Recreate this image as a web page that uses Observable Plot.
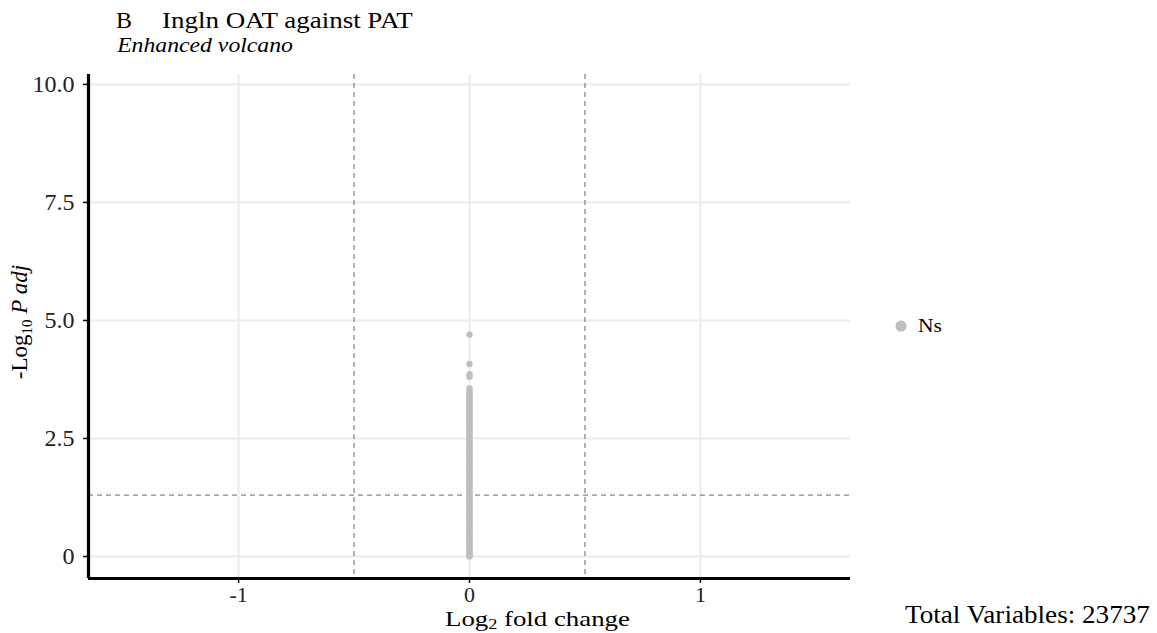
<!DOCTYPE html>
<html>
<head>
<meta charset="utf-8">
<script src="https://cdn.jsdelivr.net/npm/d3@7"></script>
<script src="https://cdn.jsdelivr.net/npm/@observablehq/plot@0.6"></script>
<style>
  html, body { margin: 0; padding: 0; background: #fff; }
  #chart { position: relative; width: 1157px; height: 633px; }
  svg { font-family: "Liberation Serif", "DejaVu Serif", serif; }
</style>
</head>
<body>
<div id="chart"></div>
<script>
// ---- data ----
const xTicks = [-1, 0, 1];
const xTickLabels = ["-1", "0", "1"];
const yTicks = [0, 2.5, 5, 7.5, 10];
const yTickLabels = ["0", "2.5", "5.0", "7.5", "10.0"];
const fcCutoffs = [-0.5, 0.5];
const pCutoff = [1.30103];
// -log10 adjusted p values of genes (all with log2FC ~ 0)
const negLogP = [4.70, 4.08, 3.86, 3.81, 3.56, 3.50, 3.45, 3.41, 3.37, 3.33, 3.29, 3.25, 3.21,
  3.17, 3.13, 3.09, 3.05, 3.01, 2.97, 2.93, 2.89, 2.85, 2.81, 2.77, 2.73, 2.69, 2.65, 2.61,
  2.57, 2.53, 2.49, 2.45, 2.41, 2.37, 2.33, 2.29, 2.25, 2.21, 2.17, 2.13, 2.09, 2.05, 2.01,
  1.97, 1.93, 1.89, 1.85, 1.81, 1.77, 1.73, 1.69, 1.65, 1.61, 1.57, 1.53, 1.49, 1.45, 1.41,
  1.37, 1.33, 1.29, 1.25, 1.21, 1.17, 1.13, 1.09, 1.05, 1.01, 0.97, 0.93, 0.89, 0.85, 0.81,
  0.77, 0.73, 0.69, 0.65, 0.61, 0.57, 0.53, 0.49, 0.45, 0.41, 0.37, 0.33, 0.29, 0.25, 0.21,
  0.17, 0.13, 0.09, 0.05, 0.02, 0.00];
const log2FC = negLogP.map(() => 0);
const categories = ["Ns"];
const colors = ["#bebebe"];
const totalVariables = 23737;

const genes = negLogP.map((p, i) => ({fc: log2FC[i], p, group: categories[0]}));

const xDomain = [-1.65, 1.65];
const yDomain = [-0.466, 10.21];

const plot = Plot.plot({
  width: 1157,
  height: 633,
  marginLeft: 88,
  marginRight: 307,
  marginTop: 74,
  marginBottom: 55,
  style: {fontFamily: "Liberation Serif", background: "#fff"},
  x: {domain: xDomain},
  y: {domain: yDomain},
  color: {domain: categories, range: colors},
  marks: [
    Plot.gridX(xTicks, {stroke: "#ebebeb", strokeOpacity: 1, strokeWidth: 2}),
    Plot.gridY(yTicks, {stroke: "#ebebeb", strokeOpacity: 1, strokeWidth: 2}),
    Plot.ruleX(fcCutoffs, {stroke: "#666", strokeWidth: 1, strokeDasharray: "5,4"}),
    Plot.ruleY(pCutoff, {stroke: "#666", strokeWidth: 1, strokeDasharray: "5,4"}),
    Plot.dot(genes, {x: "fc", y: "p", fill: "group", r: 3.2, stroke: null}),
    Plot.ruleX([xDomain[0]], {stroke: "#000", strokeWidth: 3.2}),
    Plot.ruleY([yDomain[0]], {stroke: "#000", strokeWidth: 3.2, x1: xDomain[0], x2: xDomain[1]}),
    Plot.axisX({ticks: xTicks, tickFormat: (d) => xTickLabels[xTicks.indexOf(d)], tickSize: 5,
      tickPadding: 3, fontSize: 22, fill: "#222", stroke: "#000", strokeWidth: 1.5, label: null}),
    Plot.axisY({ticks: yTicks, tickFormat: (d) => yTickLabels[yTicks.indexOf(d)], tickSize: 5,
      tickPadding: 9, fontSize: 24, fill: "#222", stroke: "#000", strokeWidth: 1.5, label: null})
  ]
});
document.getElementById("chart").appendChild(plot);

const svg = d3.select(plot);
const font = "Liberation Serif";

// stretch a horizontal text so it starts at x0 and spans width w
function fit(sel, x0, w) {
  const b = sel.node().getBBox();
  const sx = w / b.width;
  sel.attr("transform", `translate(${x0},0) scale(${sx},1) translate(${-b.x},0)`);
}
function txt(x, y, size, str, extra = {}) {
  const t = svg.append("text").attr("x", x).attr("y", y).attr("font-family", font)
    .attr("font-size", size).attr("fill", "#000").attr("text-anchor", "start");
  for (const k in extra) t.attr(k, extra[k]);
  if (str != null) t.text(str);
  return t;
}

// title & subtitle
fit(txt(0, 28, 23, "B"), 116, 16);
fit(txt(0, 28, 23, "Ingln OAT against PAT"), 162, 251);
fit(txt(0, 52, 21, "Enhanced volcano", {"font-style": "italic"}), 116, 177);

// x axis title
const xt = txt(0, 626, 22, null);
xt.append("tspan").text("Log");
xt.append("tspan").attr("font-size", 15).attr("dy", 3).text("2");
xt.append("tspan").attr("dy", -3).text(" fold change");
fit(xt, 445, 185);

// y axis title
const yt = svg.append("text").attr("transform", "translate(27,322) rotate(-90)")
  .attr("text-anchor", "middle").attr("font-family", font).attr("font-size", 23).attr("fill", "#000");
yt.append("tspan").text("-Log");
yt.append("tspan").attr("font-size", 15).attr("dy", 5).text("10");
yt.append("tspan").attr("dy", -5).attr("font-style", "italic").text(" P adj");

// legend
categories.forEach((c, i) => {
  svg.append("circle").attr("cx", 901).attr("cy", 326 + i * 24).attr("r", 5.5).attr("fill", colors[i]);
  fit(txt(0, 332 + i * 24, 19, c), 918, 24);
});

// caption
fit(txt(0, 623, 25, "Total Variables: " + totalVariables), 905, 245);
</script>
</body>
</html>
